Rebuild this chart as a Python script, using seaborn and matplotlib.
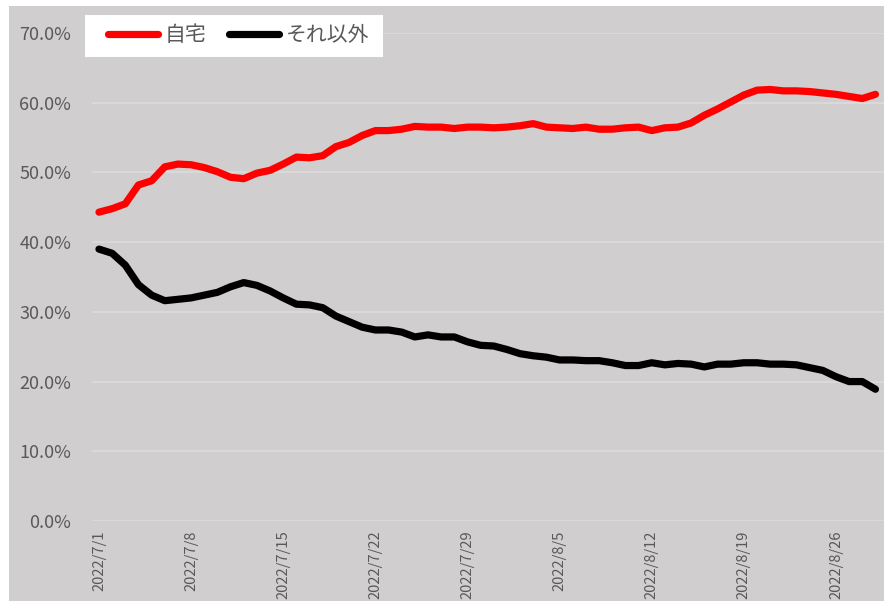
import datetime as dt

import matplotlib
matplotlib.use("Agg")
import matplotlib.pyplot as plt
import matplotlib.dates as mdates
from matplotlib.patches import Rectangle
from matplotlib.ticker import FuncFormatter
import numpy as np
import pandas as pd
import seaborn as sns

# Daily share of time spent at home vs. elsewhere, 2022/7/1 - 2022/8/29
start_date = "2022-07-01"
n_days = 60
series_names = ["自宅", "それ以外"]
home = [
    44.3, 44.8, 45.5, 48.2, 48.8, 50.8, 51.2, 51.1, 50.7, 50.1,
    49.3, 49.1, 49.9, 50.3, 51.2, 52.2, 52.1, 52.4, 53.7, 54.3,
    55.3, 56.0, 56.0, 56.2, 56.6, 56.5, 56.5, 56.3, 56.5, 56.5,
    56.4, 56.5, 56.7, 57.0, 56.5, 56.4, 56.3, 56.5, 56.2, 56.2,
    56.4, 56.5, 56.0, 56.4, 56.5, 57.1, 58.2, 59.1, 60.1, 61.1,
    61.8, 61.9, 61.7, 61.7, 61.6, 61.4, 61.2, 60.9, 60.6, 61.2,
]
other = [
    39.0, 38.4, 36.7, 33.9, 32.4, 31.6, 31.8, 32.0, 32.4, 32.8,
    33.6, 34.2, 33.8, 33.0, 32.0, 31.1, 31.0, 30.6, 29.4, 28.6,
    27.8, 27.4, 27.4, 27.1, 26.4, 26.7, 26.4, 26.4, 25.7, 25.2,
    25.1, 24.6, 24.0, 23.7, 23.5, 23.1, 23.1, 23.0, 23.0, 22.7,
    22.3, 22.3, 22.7, 22.4, 22.6, 22.5, 22.1, 22.5, 22.5, 22.7,
    22.7, 22.5, 22.5, 22.4, 22.0, 21.6, 20.7, 20.0, 20.0, 18.9,
]
tick_labels = [
    "2022/7/1", "2022/7/8", "2022/7/15", "2022/7/22", "2022/7/29",
    "2022/8/5", "2022/8/12", "2022/8/19", "2022/8/26",
]
y_ticks = [0.0, 0.1, 0.2, 0.3, 0.4, 0.5, 0.6, 0.7]

line_colors = {"自宅": "#FF0000", "それ以外": "#000000"}
text_color = "#595959"
panel_color = "#D0CECE"
grid_color = "#DCDADA"

dates = pd.date_range(start_date, periods=n_days, freq="D")
df = pd.concat([
    pd.DataFrame({"date": dates, "share": np.array(home) / 100, "series": series_names[0]}),
    pd.DataFrame({"date": dates, "share": np.array(other) / 100, "series": series_names[1]}),
], ignore_index=True)

sns.set_theme(style="white")
plt.rcParams["font.family"] = ["Noto Sans CJK JP", "DejaVu Sans"]

fig = plt.figure(figsize=(8.85, 6.06), dpi=100)
fig.patch.set_facecolor("white")

# grey chart panel behind everything
panel = Rectangle((9 / 885, 5 / 606), 875 / 885, 595 / 606,
                  transform=fig.transFigure, facecolor=panel_color,
                  edgecolor="none", zorder=-10)
fig.add_artist(panel)

ax = fig.add_axes([92 / 885, 85 / 606, 792 / 885, 488 / 606])
ax.set_facecolor("none")

sns.lineplot(data=df, x="date", y="share", hue="series", hue_order=series_names,
             palette=line_colors, linewidth=5.2, legend=False, ax=ax,
             solid_capstyle="round", solid_joinstyle="round", zorder=3)

ax.set_ylim(0, 0.7)
ax.set_yticks(y_ticks)
ax.yaxis.set_major_formatter(FuncFormatter(lambda v, _: f"{v * 100:.1f}%"))
ax.grid(axis="y", color=grid_color, linewidth=1.3, zorder=1)
ax.grid(axis="x", visible=False)

x0 = mdates.date2num(dates[0])
x1 = mdates.date2num(dates[-1])
ax.set_xlim(x0 - 0.53, x1 + 0.65)
tick_dates = [dt.datetime.strptime(s, "%Y/%m/%d") for s in tick_labels]
ax.set_xticks(mdates.date2num(tick_dates))
ax.set_xticklabels(tick_labels, rotation=90, fontsize=10.6, color=text_color)

ax.tick_params(axis="y", length=0, pad=15, labelsize=13, labelcolor=text_color)
ax.tick_params(axis="x", length=0, pad=7)
for s in ax.spines.values():
    s.set_visible(False)
ax.set_xlabel("")
ax.set_ylabel("")

# white legend box
legend_box = Rectangle((85 / 885, 1 - 57 / 606), 298 / 885, 42 / 606,
                       transform=fig.transFigure, facecolor="white",
                       edgecolor="none", zorder=4)
fig.add_artist(legend_box)

handles = ax.get_lines()[:2]
leg = fig.legend(handles, series_names, loc="upper left",
                 bbox_to_anchor=(99 / 885, 1 - 15 / 606), ncol=2,
                 frameon=False, borderaxespad=0,
                 fontsize=15, handlelength=2.4, handletextpad=0.3,
                 columnspacing=1.1, borderpad=0.45)
leg.set_zorder(5)
for t in leg.get_texts():
    t.set_color(text_color)
for h in leg.legend_handles:
    h.set_linewidth(5.2)
    h.set_solid_capstyle("round")

fig.savefig("out.png", dpi=100, facecolor="white")
